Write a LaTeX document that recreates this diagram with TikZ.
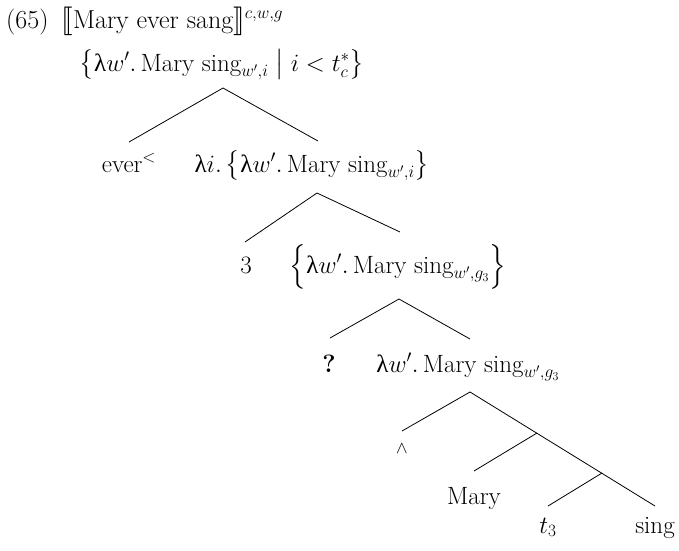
\documentclass[tikz,border=0pt]{standalone}
\usepackage{amsmath}
\usepackage{stmaryrd}
\usepackage{fontspec}
\setmainfont{Latin Modern Roman}
\newfontfamily\grk{Liberation Serif}
\newcommand{\lam}{\mbox{\grk λ}}
\newcommand{\bigbr}[1]{\scalebox{1.15}{$#1$}}
\begin{document}
\begin{tikzpicture}[x=1pt,y=-1pt,
  lbl/.style={anchor=base,inner sep=0pt,font=\fontsize{25}{30}\selectfont},
  branch/.style={line width=0.8pt}]
\useasboundingbox (0,0) rectangle (679,550);
% labels
\node[lbl,anchor=base west,font=\fontsize{26}{30}\selectfont] (title) at (6,28) {(65)\enspace\bigbr{\llbracket}Mary ever sang\bigbr{\rrbracket}$^{c,w,g}$};
\node[lbl] (root) at (222,71) {$\bigl\{\lam w'.\,\mbox{Mary sing}_{w',i}\bigm| i<t^{*}_{c}\bigr\}$};
\node[lbl] (ever) at (129,172) {ever$^{<}$};
\node[lbl] (li) at (312,172) {$\lam i.\,\bigl\{\lam w'.\,\mbox{Mary sing}_{w',i}\bigr\}$};
\node[lbl] (three) at (246,273) {3};
\node[lbl] (set) at (398,273) {$\Bigl\{\lam w'.\,\mbox{Mary sing}_{w',g_3}\Bigr\}$};
\node[lbl] (q) at (329,372) {\textbf{?}};
\node[lbl] (lw) at (468,372) {$\lam w'.\,\mbox{Mary sing}_{w',g_3}$};
\node[lbl,font=\fontsize{17}{20}\selectfont] (wedge) at (402,453) {$\wedge$};
\node[lbl] (mary) at (474,504) {Mary};
\node[lbl] (t) at (548,533) {$t_3$};
\node[lbl] (sing) at (655,533) {sing};
% branch points
\coordinate (a0) at (223,88);
\coordinate (e0l) at (129,142);
\coordinate (e0r) at (318,141);
\coordinate (a1) at (317,193);
\coordinate (e1l) at (245,242);
\coordinate (e1r) at (400,232);
\coordinate (a2) at (399,299);
\coordinate (e2l) at (330,338);
\coordinate (e2r) at (470,339);
\coordinate (a3) at (470,392);
\coordinate (e3l) at (402,431);
\coordinate (j1) at (537,433);
\coordinate (j2) at (602,473);
\coordinate (e3r) at (655,506);
\coordinate (emary) at (474,471);
\coordinate (et) at (548,506);
% connectors
\draw[branch] (e0l) -- (a0) -- (e0r);
\draw[branch] (e1l) -- (a1) -- (e1r);
\draw[branch] (e2l) -- (a2) -- (e2r);
\draw[branch] (e3l) -- (a3) -- (e3r);
\draw[branch] (j1) -- (emary);
\draw[branch] (j2) -- (et);
\end{tikzpicture}
\end{document}
